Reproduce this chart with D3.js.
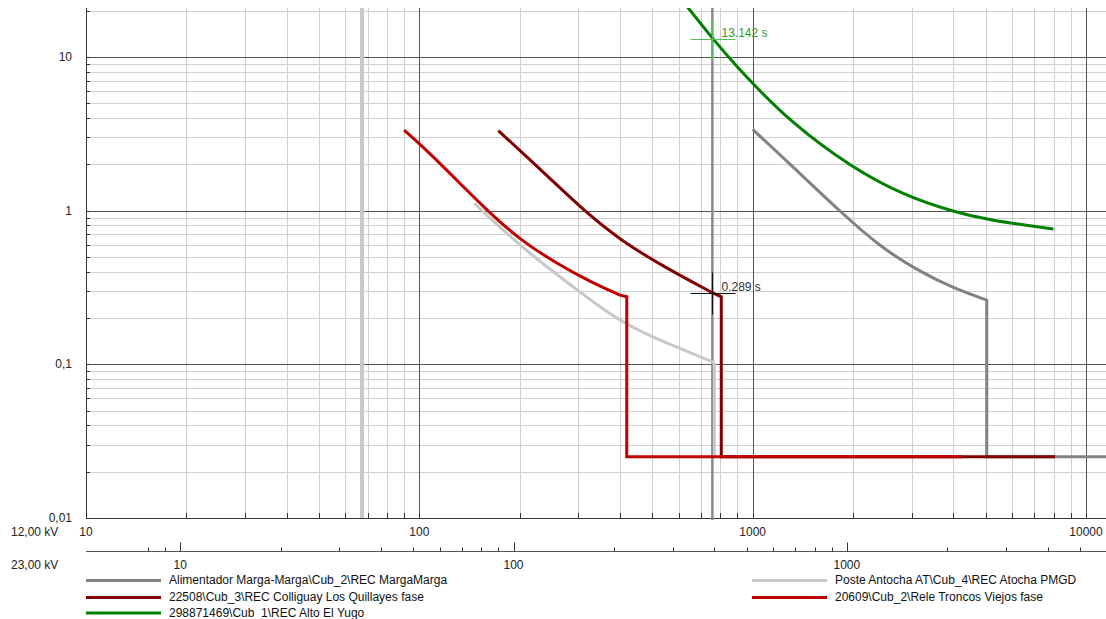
<!DOCTYPE html>
<html>
<head>
<meta charset="utf-8">
<script src="https://cdn.jsdelivr.net/npm/d3@7"></script>
<style>
  body { margin: 0; background: #fff; }
  svg { display: block; font-family: "Liberation Sans", Arial, sans-serif; }
</style>
</head>
<body>
<svg id="chart" width="1106" height="619"></svg>
<script>
const width = 1106;
const height = 619;
const plotLeft = 86, plotRight = 1106, plotTop = 8, plotBottom = 518;

// current (A at 12 kV) / time (s) points, smooth part then the step part
const margaCurve = [[1000, 3.38], [1294, 2.01], [1828, 0.985], [2410, 0.582], [3105, 0.411], [4000, 0.312], [5036, 0.262]];
const margaStep = [[5036, 0.262], [5036, 0.025], [11480, 0.025]];

const antochaCurve = [[146.2, 1.116], [191.4, 0.644], [252.4, 0.3985], [303.4, 0.2954], [348.4, 0.236], [419, 0.180], [552.5, 0.137], [695, 0.112], [760, 0.1035]];
const antochaStep = [[760, 0.1035], [767, 0.1], [767, 0.025]];
const antochaMarker = 67.3;

const colliguayCurve = [[172.6, 3.31], [241, 1.70], [310, 1.01], [400, 0.644], [540, 0.432], [762, 0.290]];
const colliguayStep = [[762, 0.290], [805, 0.275], [805, 0.025], [8070, 0.025]];

const troncosCurve = [[90, 3.34], [100, 2.74], [123.6, 1.75], [159, 1.01], [200.5, 0.644], [258, 0.454], [325, 0.345], [400, 0.282]];
const troncosStep = [[400, 0.282], [419, 0.275], [419, 0.025], [4246, 0.025]];

const yugoCurve = [[597, 25.3], [757, 13.14], [916, 8.22], [1000, 6.73], [1294, 3.80], [1959, 1.93], [2897, 1.23], [4000, 0.985], [5036, 0.869], [7982, 0.759]];
const yugoStep = [];

// cursor
const cursorCurrent = 757;
const cursorTimes = [13.142, 0.289];
const cursorLabels = ["13.142 s", "0.289 s"];

// axes
const yLabelValues = [0.01, 0.1, 1, 10];
const yLabels = ["0,01", "0,1", "1", "10"];
const xLabelValues = [10, 100, 1000, 10000];
const xLabels = ["10", "100", "1000", "10000"];
const x2LabelValues = [10, 100, 1000];
const x2Labels = ["10", "100", "1000"];
const voltage1 = "12,00 kV";
const voltage2 = "23,00 kV";

const legendNames = [
    "Alimentador Marga-Marga\\Cub_2\\REC MargaMarga",
    "Poste Antocha AT\\Cub_4\\REC Atocha PMGD",
    "22508\\Cub_3\\REC Colliguay Los Quillayes fase",
    "20609\\Cub_2\\Rele Troncos Viejos fase",
    "298871469\\Cub_1\\REC Alto El Yugo"
];
const colors = ["#828282", "#c8c8c8", "#800000", "#c00000", "#008000"];

const series = [
    { curve: margaCurve, step: margaStep },
    { curve: antochaCurve, step: antochaStep },
    { curve: colliguayCurve, step: colliguayStep },
    { curve: troncosCurve, step: troncosStep },
    { curve: yugoCurve, step: yugoStep }
];

const svg = d3.select("#chart");

const x = d3.scaleLog().domain([10, 11480]).range([plotLeft, plotRight]);
const y = d3.scaleLog().domain([0.01, 20.8]).range([plotBottom, plotTop]);
// second voltage level: same current seen on the 23 kV side
const x2 = d3.scaleLog().domain([10 * 12 / 23, 11480 * 12 / 23]).range([plotLeft, plotRight]);

const isMajor = v => Math.abs(Math.log10(v) - Math.round(Math.log10(v))) < 1e-9;

// grid
const grid = svg.append("g");
const xTicks = x.ticks();
const yTicks = y.ticks();

grid.selectAll(".gx").data(xTicks.filter(v => !isMajor(v))).join("line")
    .attr("x1", d => Math.round(x(d)) + 0.5).attr("x2", d => Math.round(x(d)) + 0.5)
    .attr("y1", plotTop).attr("y2", plotBottom)
    .attr("stroke", "#cfcfcf");
grid.selectAll(".gy").data(yTicks.filter(v => !isMajor(v))).join("line")
    .attr("x1", plotLeft).attr("x2", plotRight)
    .attr("y1", d => Math.round(y(d)) + 0.5).attr("y2", d => Math.round(y(d)) + 0.5)
    .attr("stroke", "#cfcfcf");
grid.selectAll(".mx").data(xTicks.filter(isMajor)).join("line")
    .attr("x1", d => Math.round(x(d)) + 0.5).attr("x2", d => Math.round(x(d)) + 0.5)
    .attr("y1", plotTop).attr("y2", plotBottom)
    .attr("stroke", "#555");
grid.selectAll(".my").data(yTicks.filter(isMajor)).join("line")
    .attr("x1", plotLeft).attr("x2", plotRight)
    .attr("y1", d => Math.round(y(d)) + 0.5).attr("y2", d => Math.round(y(d)) + 0.5)
    .attr("stroke", "#555");

// small ticks inside the frame
grid.selectAll(".tx").data(xTicks).join("line")
    .attr("x1", d => Math.round(x(d)) + 0.5).attr("x2", d => Math.round(x(d)) + 0.5)
    .attr("y1", plotBottom - 5).attr("y2", plotBottom)
    .attr("stroke", "#333");
grid.selectAll(".ty").data(yTicks).join("line")
    .attr("x1", plotLeft).attr("x2", plotLeft + 4)
    .attr("y1", d => Math.round(y(d)) + 0.5).attr("y2", d => Math.round(y(d)) + 0.5)
    .attr("stroke", "#333");

// frame
svg.append("line").attr("x1", plotLeft + 0.5).attr("x2", plotLeft + 0.5).attr("y1", plotTop).attr("y2", plotBottom + 1).attr("stroke", "#333");
svg.append("line").attr("x1", plotLeft).attr("x2", plotRight).attr("y1", plotBottom + 0.5).attr("y2", plotBottom + 0.5).attr("stroke", "#333");

// clip
svg.append("clipPath").attr("id", "plot")
    .append("rect").attr("x", plotLeft).attr("y", plotTop).attr("width", plotRight - plotLeft).attr("height", plotBottom - plotTop + 2);
const plot = svg.append("g").attr("clip-path", "url(#plot)");

// Antocha vertical marker
plot.append("line")
    .attr("x1", x(antochaMarker)).attr("x2", x(antochaMarker))
    .attr("y1", plotTop).attr("y2", plotBottom)
    .attr("stroke", colors[1]).attr("stroke-width", 4);

// cursor line
plot.append("line")
    .attr("x1", x(cursorCurrent)).attr("x2", x(cursorCurrent))
    .attr("y1", plotTop).attr("y2", plotBottom + 2)
    .attr("stroke", "#888").attr("stroke-width", 2.5);

const smooth = d3.line().x(d => x(d[0])).y(d => y(d[1])).curve(d3.curveBasis);
const straight = d3.line().x(d => x(d[0])).y(d => y(d[1]));

series.forEach(function (s, i) {
    let path = smooth(s.curve);
    if (s.step.length > 1) {
        path += "L" + straight(s.step).slice(1);
    }
    plot.append("path")
        .attr("d", path)
        .attr("fill", "none")
        .attr("stroke", colors[i])
        .attr("stroke-width", 3)
        .attr("stroke-linejoin", "miter");
});

// cursor crosses and readings
const crossColors = ["#5cb85c", "#111"];
const textColors = ["#2e9a2e", "#333"];
cursorTimes.forEach(function (t, i) {
    const cx = Math.round(x(cursorCurrent)) + 0.5;
    const cy = Math.round(y(t)) + 0.5;
    svg.append("line").attr("x1", cx - 22).attr("x2", cx + 23).attr("y1", cy).attr("y2", cy)
        .attr("stroke", crossColors[i]);
    svg.append("line").attr("x1", cx).attr("x2", cx).attr("y1", cy - 21).attr("y2", cy + 21)
        .attr("stroke", crossColors[i]);
    svg.append("text")
        .attr("x", cx + 9).attr("y", cy - 3)
        .attr("font-size", "12px")
        .attr("fill", textColors[i])
        .text(cursorLabels[i]);
});

// axis labels
svg.selectAll(".yl").data(yLabelValues).join("text")
    .attr("x", 72).attr("y", d => y(d) + 4)
    .attr("text-anchor", "end").attr("font-size", "12px").attr("fill", "#222")
    .text((d, i) => yLabels[i]);
svg.selectAll(".xl").data(xLabelValues).join("text")
    .attr("x", d => x(d)).attr("y", 536)
    .attr("text-anchor", "middle").attr("font-size", "12px").attr("fill", "#222")
    .text((d, i) => xLabels[i]);
svg.append("text").attr("x", 11).attr("y", 536).attr("font-size", "12px").attr("fill", "#222").text(voltage1);

// 23 kV axis
const axis2Y = 551.5;
svg.append("line").attr("x1", plotLeft).attr("x2", plotRight).attr("y1", axis2Y).attr("y2", axis2Y).attr("stroke", "#555");
const x2Ticks = x2.ticks().filter(v => v >= 8);
svg.selectAll(".t2").data(x2Ticks).join("line")
    .attr("x1", d => Math.round(x2(d)) + 0.5).attr("x2", d => Math.round(x2(d)) + 0.5)
    .attr("y1", d => isMajor(d) ? axis2Y - 9 : axis2Y - 4).attr("y2", axis2Y)
    .attr("stroke", "#333");
svg.selectAll(".x2l").data(x2LabelValues).join("text")
    .attr("x", d => x2(d)).attr("y", 569)
    .attr("text-anchor", "middle").attr("font-size", "12px").attr("fill", "#222")
    .text((d, i) => x2Labels[i]);
svg.append("text").attr("x", 11).attr("y", 569).attr("font-size", "12px").attr("fill", "#222").text(voltage2);

// legend
const legendPos = [[86, 580.5], [752, 580.5], [86, 597.5], [752, 597.5], [86, 613]];
legendNames.forEach(function (name, i) {
    const [lx, ly] = legendPos[i];
    svg.append("line").attr("x1", lx).attr("x2", lx + 75).attr("y1", ly).attr("y2", ly)
        .attr("stroke", colors[i]).attr("stroke-width", 3);
    svg.append("text").attr("x", lx + 83).attr("y", ly + 3.5)
        .attr("font-size", "12px").attr("fill", "#111")
        .text(name);
});
</script>
</body>
</html>
